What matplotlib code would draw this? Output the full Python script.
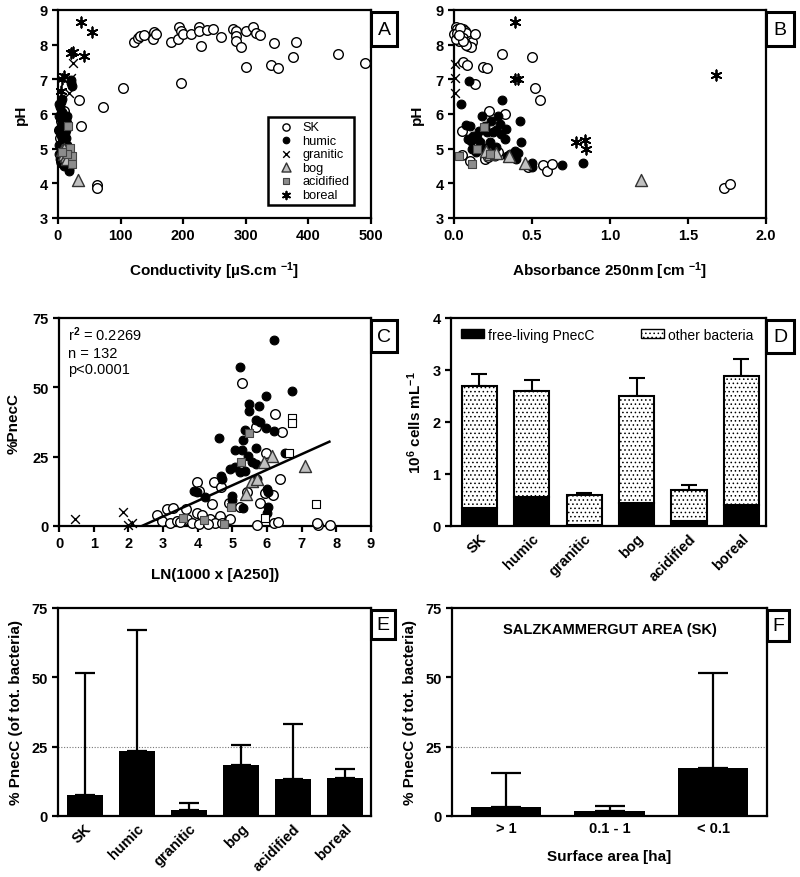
import numpy as np
import matplotlib.pyplot as plt
from matplotlib.patches import Patch, Rectangle

plt.rcParams['font.family'] = ['Liberation Sans', 'DejaVu Sans']
plt.rcParams['font.weight'] = 'bold'
plt.rcParams['axes.labelweight'] = 'bold'
plt.rcParams['mathtext.fontset'] = 'custom'
plt.rcParams['mathtext.rm'] = 'Liberation Sans'
plt.rcParams['mathtext.bf'] = 'Liberation Sans:bold'
plt.rcParams['mathtext.default'] = 'bf'
plt.rcParams['hatch.color'] = '#9a9a9a'
plt.rcParams['hatch.linewidth'] = 0.6

# ---------------- panel A : pH vs conductivity
a_sk = [(63, 3.96), (63, 3.87), (36, 5.66), (33, 6.4), (72, 6.19), (104, 6.74), (196, 6.88),
        (122, 8.09), (128, 8.18), (131, 8.26), (138, 8.28), (153, 8.37), (152, 8.16), (157, 8.31),
        (180, 8.09), (192, 8.16), (193, 8.5), (197, 8.4), (199, 8.31), (213, 8.31), (225, 8.5),
        (226, 8.4), (229, 7.97), (238, 8.43), (248, 8.45), (260, 8.21), (279, 8.45), (284, 8.4),
        (284, 8.26), (285, 8.12), (293, 7.92), (300, 8.4), (300, 7.37), (312, 8.5), (317, 8.33),
        (323, 8.28), (340, 7.42), (345, 8.04), (352, 7.33), (375, 7.65), (380, 8.09), (448, 7.73),
        (491, 7.47), (9.5, 6.1), (5, 5.8), (3, 5.3), (7, 4.9), (11, 4.7), (4, 4.65), (2, 5.55)]
a_humic = [(2, 6.3), (4, 6.35), (6, 6.42), (3, 6.2), (1, 5.95), (4, 5.85), (6, 5.75), (8, 5.65),
           (10, 5.95), (12, 5.85), (14, 5.75), (3, 5.5), (5, 5.4), (7, 5.3), (9, 5.2), (11, 5.45),
           (13, 5.55), (2, 5.1), (4, 5.0), (6, 4.9), (8, 4.8), (10, 4.7), (12, 4.6), (14, 4.55),
           (16, 4.5), (18, 4.42), (17, 4.36), (15, 4.62), (1, 4.85), (3, 4.7), (20, 6.97),
           (21, 6.88), (22, 6.8), (6, 5.2), (9, 5.05), (11, 5.15), (13, 4.9), (16, 4.8), (2, 5.55),
           (14, 5.95), (7, 6.05), (5, 4.6), (9, 4.5), (12, 5.3), (15, 5.1)]
a_granitic = [(23.5, 7.47), (21, 7.05), (17.5, 6.6)]
a_bog = [(32, 4.1), (6, 4.95), (9, 4.85), (12, 4.78), (14, 4.7), (10, 5.0)]
a_acidified = [(16.5, 5.65), (19, 5.02), (23, 4.8), (14, 4.85), (22, 4.56), (7, 4.9)]
a_boreal = [(36.7, 8.66), (54, 8.37), (23.5, 7.8), (21.5, 7.76), (41, 7.68), (10, 7.1), (6, 7.0), (5, 6.67)]

# ---------------- panel B : pH vs absorbance
b_sk = [(0.01, 8.5), (0.02, 8.45), (0.03, 8.4), (0.04, 8.35), (0.05, 8.3), (0.06, 8.45), (0.07, 8.4),
        (0.08, 8.35), (0.02, 8.2), (0.03, 8.1), (0.04, 8.25), (0.05, 8.15), (0.06, 8.2), (0.10, 8.12),
        (0.113, 8.07), (0.09, 7.97), (0.107, 7.92), (0.135, 8.31), (0.0, 8.3), (0.01, 8.15), (0.07, 8.05),
        (0.02, 8.35), (0.04, 8.48), (0.08, 8.0), (0.06, 8.1), (0.03, 8.28),
        (0.306, 7.73), (0.498, 7.63), (0.06, 7.49), (0.081, 7.41), (0.184, 7.37), (0.214, 7.33),
        (0.135, 6.87), (0.52, 6.74), (0.552, 6.4), (0.227, 6.1), (0.33, 6.0), (0.05, 5.52),
        (0.05, 4.82), (0.103, 4.65), (0.2, 4.7), (0.573, 4.54), (0.595, 4.37), (0.63, 4.56),
        (0.477, 4.46), (1.728, 3.87), (1.767, 3.98), (0.25, 5.0), (0.28, 4.9), (0.22, 4.75)]
b_humic = [(0.098, 6.96), (0.045, 6.29), (0.306, 6.41), (0.18, 5.95), (0.285, 5.93), (0.075, 5.68),
           (0.10, 5.66), (0.124, 5.37), (0.107, 5.23), (0.158, 5.52), (0.2, 5.66), (0.24, 5.8),
           (0.295, 5.71), (0.334, 5.57), (0.21, 5.47), (0.25, 5.47), (0.3, 5.42), (0.167, 5.18),
           (0.23, 5.18), (0.33, 5.28), (0.42, 5.8), (0.43, 5.18), (0.14, 4.9), (0.19, 5.0),
           (0.27, 5.04), (0.39, 4.94), (0.40, 4.7), (0.41, 4.88), (0.5, 4.6), (0.5, 4.46),
           (0.695, 4.54), (0.826, 4.6), (0.22, 5.04), (0.26, 4.8), (0.34, 4.8), (0.113, 4.99),
           (0.09, 5.28), (0.15, 5.3), (0.27, 5.55), (0.36, 4.85)]
b_granitic = [(0.005, 7.45), (0.005, 7.05), (0.005, 6.6)]
b_bog = [(0.205, 4.94), (0.23, 4.85), (0.27, 4.88), (0.355, 4.8), (0.455, 4.6), (1.2, 4.1)]
b_acidified = [(0.034, 4.8), (0.113, 4.56), (0.145, 4.99), (0.19, 5.62), (0.23, 4.85)]
b_boreal = [(0.39, 8.66), (0.39, 7.0), (0.41, 7.0), (0.78, 5.2), (0.84, 5.25), (0.847, 5.0), (1.68, 7.12)]

# ---------------- panel C : %PnecC vs LN(1000 x A250)
c_humic = [(6.19, 67.2), (5.23, 57.3), (5.98, 47.0), (6.71, 48.6), (5.49, 44.0), (5.47, 41.3),
           (5.78, 43.1), (5.69, 38.4), (5.80, 37.4), (5.97, 35.3), (6.21, 34.4), (5.37, 34.7),
           (5.32, 31.1), (4.62, 31.6), (5.07, 27.5), (5.29, 27.5), (5.69, 28.0), (5.44, 25.3),
           (5.58, 22.9), (5.69, 22.3), (5.23, 19.3), (5.37, 19.9), (4.94, 20.7), (5.08, 21.1),
           (4.66, 18.1), (4.70, 17.1), (6.52, 26.2), (5.71, 16.9), (4.22, 10.3), (3.88, 12.7),
           (4.99, 10.9), (4.99, 9.3), (5.99, 13.3), (6.04, 12.1), (6.04, 7.0), (5.99, 4.8),
           (5.32, 6.6), (3.98, 12.1)]
c_sk = [(5.29, 51.5), (6.24, 40.4), (6.44, 33.8), (5.69, 35.7), (5.97, 26.5), (3.98, 15.9),
        (4.03, 12.7), (4.46, 15.7), (4.68, 14.2), (6.38, 17.1), (5.42, 12.1), (6.16, 11.2),
        (5.80, 8.4), (5.21, 7.0), (5.95, 11.8), (2.82, 3.9), (3.11, 6.3), (3.29, 6.6), (3.65, 6.3),
        (4.41, 7.8), (4.65, 3.6), (4.89, 8.4), (2.97, 1.8), (3.21, 1.2), (3.40, 1.8), (3.69, 2.4),
        (3.98, 4.8), (4.12, 3.9), (4.22, 1.8), (4.36, 2.4), (3.83, 1.2), (4.5, 1.2), (4.92, 2.4),
        (4.05, 0.6), (4.31, 0.6), (5.71, 0.5), (6.21, 1.0), (6.31, 1.4), (7.48, 0.5), (7.82, 0.2),
        (7.44, 1.0), (3.5, 1.4), (4.7, 1.0)]
c_acidified = [(5.47, 33.4), (5.25, 22.9), (4.96, 7.0), (3.57, 2.8), (4.75, 0.8), (4.17, 2.2)]
c_boreal = [(6.73, 38.8), (6.73, 37.2), (6.64, 26.3), (7.41, 8.1), (5.95, 3.0)]
c_bog = [(6.14, 25.3), (5.90, 22.9), (7.10, 21.7), (5.56, 16.3), (5.40, 11.5), (5.70, 17.0)]
c_granitic = [(0.47, 2.6), (1.84, 4.9), (2.0, 0.4), (2.12, 1.1)]
fit_slope, fit_intercept = 5.62, -13.43
fit_x = [2.39, 7.8]
stats_text = ['r$\\mathrm{^2}$ = 0.2269', 'n = 132', 'p<0.0001']

# ---------------- panel D : cell numbers
groups = ['SK', 'humic', 'granitic', 'bog', 'acidified', 'boreal']
d_pnecc = [0.35, 0.55, 0.02, 0.45, 0.10, 0.40]
d_total = [2.70, 2.60, 0.60, 2.50, 0.70, 2.88]
d_err = [0.22, 0.20, 0.03, 0.34, 0.08, 0.33]

# ---------------- panel E : % PnecC by group
e_mean = [7.5, 23.5, 2.3, 18.3, 13.5, 13.7]
e_err = [44.0, 43.5, 2.5, 7.2, 19.8, 3.3]

# ---------------- panel F : % PnecC by surface area (SK)
f_cats = ['> 1', '0.1 - 1', '< 0.1']
f_mean = [3.3, 1.7, 17.3]
f_err = [12.2, 1.8, 34.2]

marker_style = {
    'SK': dict(marker='o', facecolor='white', edgecolor='black', s=48, linewidths=1.0),
    'humic': dict(marker='o', facecolor='black', edgecolor='black', s=40, linewidths=0.8),
    'granitic': dict(marker='x', c='black', s=40, linewidths=1.0),
    'bog': dict(marker='^', facecolor='#c0c0c0', edgecolor='#333333', s=75, linewidths=1.0),
    'acidified': dict(marker='s', facecolor='#8c8c8c', edgecolor='#444444', s=30, linewidths=0.8),
    'boreal': dict(marker=(6, 2, 0), c='black', s=55, linewidths=1.3),
}

W, H = 800, 878
fig = plt.figure(figsize=(W / 100, H / 100), dpi=100)


def add_axes(l, t, r, b):
    return fig.add_axes([l / W, 1 - b / H, (r - l) / W, (b - t) / H])


def style(ax):
    for sp in ax.spines.values():
        sp.set_linewidth(1.6)
    ax.tick_params(direction='out', width=1.6, length=4, labelsize=10.5)


def letter(ax, s, w, h):
    p = ax.get_position()
    x0, y1 = p.x1, p.y1 - 2 / H
    fig.add_artist(Rectangle((x0, y1 - h / H), w / W, h / H, transform=fig.transFigure,
                             facecolor='white', edgecolor='black', lw=2.2, clip_on=False))
    fig.text(x0 + w / W / 2, y1 - h / H / 2, s, ha='center', va='center',
             fontsize=14, fontweight='normal')


def draw(ax, pts, key, style_key=None, **kw):
    x, y = np.array(pts).T
    st = dict(marker_style[style_key or key])
    st.update(kw)
    ax.scatter(x, y, label=key, clip_on=False, zorder=3, **st)


axA = add_axes(58, 11, 371, 219)
axB = add_axes(454, 11, 766, 219)
axC = add_axes(59, 319, 371, 527)
axD = add_axes(451, 319, 766, 527)
axE = add_axes(58, 609, 371, 817)
axF = add_axes(452, 609, 767, 817)

# A
for pts, key in [(a_sk, 'SK'), (a_humic, 'humic'), (a_granitic, 'granitic'), (a_bog, 'bog'),
                 (a_acidified, 'acidified'), (a_boreal, 'boreal')]:
    draw(axA, pts, key)
axA.set_xlim(0, 500)
axA.set_ylim(3, 9)
axA.set_xticks([0, 100, 200, 300, 400, 500])
axA.set_yticks(range(3, 10))
axA.set_xlabel('Conductivity [µS.cm $^{-1}$]', fontsize=11, labelpad=12)
axA.set_ylabel('pH', fontsize=11, labelpad=8)
leg = axA.legend(loc='lower right', bbox_to_anchor=(0.965, 0.03), fancybox=False, edgecolor='black',
                 prop=dict(size=9.2, weight='normal'), markerscale=0.75, handletextpad=0.3,
                 labelspacing=0.12, borderpad=0.35, framealpha=1)
leg.get_frame().set_linewidth(1.8)
style(axA)
letter(axA, 'A', 26, 34)

# B
for pts, key in [(b_sk, 'SK'), (b_humic, 'humic'), (b_granitic, 'granitic'), (b_bog, 'bog'),
                 (b_acidified, 'acidified'), (b_boreal, 'boreal')]:
    draw(axB, pts, key)
axB.set_xlim(0, 2.0)
axB.set_ylim(3, 9)
axB.set_xticks([0.0, 0.5, 1.0, 1.5, 2.0])
axB.set_xticklabels(['0.0', '0.5', '1.0', '1.5', '2.0'])
axB.set_yticks(range(3, 10))
axB.set_xlabel('Absorbance 250nm [cm $^{-1}$]', fontsize=11, labelpad=12)
axB.set_ylabel('pH', fontsize=11, labelpad=8)
style(axB)
letter(axB, 'B', 28, 34)

# C
draw(axC, c_sk, 'SK')
draw(axC, c_humic, 'humic')
draw(axC, c_granitic, 'granitic')
draw(axC, c_bog, 'bog')
draw(axC, c_acidified, 'acidified')
draw(axC, c_boreal, 'boreal', style_key='acidified', facecolor='white', edgecolor='black')
fx = np.array(fit_x)
axC.plot(fx, fit_slope * fx + fit_intercept, color='black', lw=1.8, zorder=4)
axC.set_xlim(0, 9)
axC.set_ylim(0, 75)
axC.set_xticks(range(0, 10))
axC.set_yticks([0, 25, 50, 75])
axC.set_xlabel('LN(1000 x [A250])', fontsize=11, labelpad=12)
axC.set_ylabel('%PnecC', fontsize=11, labelpad=8)
axC.text(0.03, 0.97, '\n'.join(stats_text), transform=axC.transAxes, ha='left', va='top',
         fontsize=10.5, fontweight='normal', linespacing=1.25)
style(axC)
letter(axC, 'C', 26, 32)

# D
xd = np.arange(len(groups))
axD.bar(xd, d_pnecc, width=0.67, color='black', edgecolor='black', lw=1.5, zorder=2)
other = np.array(d_total) - np.array(d_pnecc)
axD.bar(xd, other, bottom=d_pnecc, width=0.67, color='white', edgecolor='black', hatch='....',
        lw=1.5, zorder=2)
axD.errorbar(xd, d_total, yerr=[np.zeros(len(d_err)), d_err], fmt='none', ecolor='black',
             elinewidth=1.5, capsize=6, capthick=1.5, zorder=1)
axD.set_xlim(-0.54, 5.47)
axD.set_ylim(0, 4)
axD.set_yticks(range(0, 5))
axD.set_xticks(xd)
axD.set_xticklabels(groups, rotation=45, ha='right', rotation_mode='anchor')
axD.set_ylabel('10$^{6}$ cells mL$^{-1}$', fontsize=11, labelpad=6)
handles = [Patch(facecolor='black', edgecolor='black'),
           Patch(facecolor='white', edgecolor='black', hatch='....')]
axD.legend(handles, ['free-living PnecC', 'other bacteria'], loc='upper left', ncol=2,
           frameon=False, prop=dict(size=10, weight='normal'), handlelength=1.7, handleheight=0.6,
           handletextpad=0.3, columnspacing=3.3, borderaxespad=0.3)
style(axD)
axD.tick_params(axis='x', length=0)
letter(axD, 'D', 28, 33)

# E
xe = np.arange(len(groups))
axE.bar(xe, e_mean, width=0.69, color='black', zorder=2)
axE.errorbar(xe, e_mean, yerr=[np.zeros(len(e_err)), e_err], fmt='none', ecolor='black',
             elinewidth=1.6, capsize=7, capthick=1.6, zorder=1)
axE.axhline(25, color='#777777', lw=0.8, ls=(0, (1, 1.5)), zorder=0)
axE.set_xlim(-0.51, 5.5)
axE.set_ylim(0, 75)
axE.set_yticks([0, 25, 50, 75])
axE.set_xticks(xe)
axE.set_xticklabels(groups, rotation=45, ha='right', rotation_mode='anchor')
axE.set_ylabel('% PnecC (of tot. bacteria)', fontsize=11, labelpad=6)
style(axE)
axE.tick_params(axis='x', length=0)
letter(axE, 'E', 24, 29)

# F
xf = np.arange(len(f_cats))
axF.bar(xf, f_mean, width=0.68, color='black', zorder=2)
axF.errorbar(xf, f_mean, yerr=[np.zeros(len(f_err)), f_err], fmt='none', ecolor='black',
             elinewidth=1.6, capsize=11, capthick=1.6, zorder=1)
axF.axhline(25, color='#777777', lw=0.8, ls=(0, (1, 1.5)), zorder=0)
axF.set_xlim(-0.52, 2.52)
axF.set_ylim(0, 75)
axF.set_yticks([0, 25, 50, 75])
axF.set_xticks(xf)
axF.set_xticklabels(f_cats)
axF.set_xlabel('Surface area [ha]', fontsize=11, labelpad=10)
axF.set_ylabel('% PnecC (of tot. bacteria)', fontsize=11, labelpad=6)
axF.text(0.5, 0.9, 'SALZKAMMERGUT AREA (SK)', transform=axF.transAxes, ha='center', va='center',
         fontsize=10.5)
style(axF)
axF.tick_params(axis='x', length=0)
letter(axF, 'F', 22, 31)

fig.savefig('out.png', dpi=100)
